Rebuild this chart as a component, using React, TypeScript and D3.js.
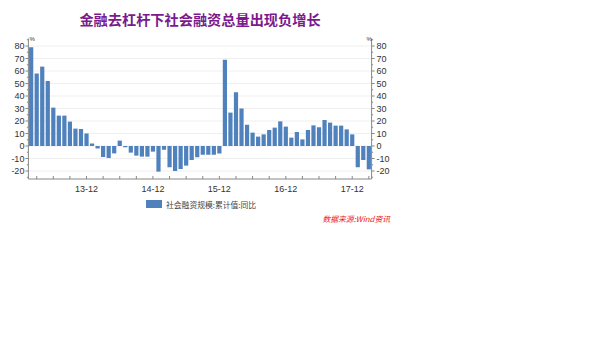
import React from "react";
import * as d3 from "d3";

const months: string[] = [
  "13-02","13-03","13-04","13-05","13-06","13-07","13-08","13-09","13-10","13-11","13-12",
  "14-01","14-02","14-03","14-04","14-05","14-06","14-07","14-08","14-09","14-10","14-11","14-12",
  "15-01","15-02","15-03","15-04","15-05","15-06","15-07","15-08","15-09","15-10","15-11","15-12",
  "16-01","16-02","16-03","16-04","16-05","16-06","16-07","16-08","16-09","16-10","16-11","16-12",
  "17-01","17-02","17-03","17-04","17-05","17-06","17-07","17-08","17-09","17-10","17-11","17-12",
  "18-01","18-02","18-03",
];

const values: number[] = [
  79, 58, 63.5, 52, 30.7, 24.3, 24.3, 19.5, 13.9, 13.6, 10,
  2, -2, -8.8, -9.6, -5.9, 4.3, -1, -5.3, -7.7, -8.5, -8.5, -4.5,
  -20.5, -3, -17, -20, -18.4, -15.7, -11.2, -9, -7, -7, -7, -6,
  69, 26.7, 43, 30, 17, 10.7, 7.5, 9.3, 12.8, 14.7, 19.7, 15.5,
  6.7, 11.2, 5.3, 12.8, 16.5, 15, 20.8, 18.7, 16.3, 16.3, 13.3, 9.3,
  -17, -11.2, -18.7,
];

const yTicks: number[] = [-20, -10, 0, 10, 20, 30, 40, 50, 60, 70, 80];
const yMinorTicks: number[] = [-25, -15, -5, 5, 15, 25, 35, 45, 55, 65, 75, 85];
const xLabelMonths: string[] = ["13-12", "14-12", "15-12", "16-12", "17-12"];
const xTickMonths: string[] = months.filter((m) => ["03", "06", "09", "12"].includes(m.slice(3)));

const title = "金融去杠杆下社会融资总量出现负增长";
const seriesName = "社会融资规模:累计值:同比";
const source = "数据来源:Wind资讯";

const FONT = "'Liberation Sans', Arial, sans-serif";
const BAR = "#4F81BD";
const AXIS = "#888888";
const TXT = "#333333";

export default function App() {
  const left = 28.4;
  const right = 371.6;
  const y = d3.scaleLinear().domain([-26.4, 86]).range([179, 38.5]);
  const x = d3.scaleBand<string>().domain(months).range([left, right]).paddingInner(0.24).paddingOuter(0.12);
  const cx = (m: string) => (x(m) as number) + x.bandwidth() / 2;
  const y0 = y(0);

  return (
    <svg width={600} height={337} style={{ position: "absolute", left: 0, top: 0, background: "#fff" }}>
      <text x={200} y={25} textAnchor="middle" fontSize={14.2} fontWeight="bold" fill="#7A1A8C"
        fontFamily="'Noto Sans CJK SC', sans-serif">{title}</text>

      {yTicks.map((t) => (
        <line key={"g" + t} x1={left} x2={right} y1={y(t)} y2={y(t)} stroke="#efefef" strokeWidth={1} />
      ))}

      {months.map((m, i) => {
        const v = values[i];
        return (
          <rect key={m} x={x(m)} width={x.bandwidth()} y={Math.min(y(v), y0)}
            height={Math.abs(y(v) - y0)} fill={BAR} />
        );
      })}

      {/* left axis */}
      <line x1={left} x2={left} y1={38.5} y2={179} stroke={AXIS} />
      {yTicks.map((t) => (
        <g key={"l" + t}>
          <line x1={left - 3} x2={left} y1={y(t)} y2={y(t)} stroke={AXIS} />
          <text x={left - 4} y={y(t)} dy="0.35em" textAnchor="end" fontSize={9} fill={TXT} fontFamily={FONT}>{t}</text>
        </g>
      ))}
      {yMinorTicks.map((t) => (
        <line key={"lm" + t} x1={left - 1.5} x2={left} y1={y(t)} y2={y(t)} stroke={AXIS} />
      ))}
      <text x={left + 1} y={41} fontSize={6} fill={TXT} fontFamily={FONT}>%</text>

      {/* right axis */}
      <line x1={right} x2={right} y1={38.5} y2={179} stroke={AXIS} />
      {yTicks.map((t) => (
        <g key={"r" + t}>
          <line x1={right} x2={right + 3} y1={y(t)} y2={y(t)} stroke={AXIS} />
          <text x={right + 5} y={y(t)} dy="0.35em" textAnchor="start" fontSize={9} fill={TXT} fontFamily={FONT}>{t}</text>
        </g>
      ))}
      {yMinorTicks.map((t) => (
        <line key={"rm" + t} x1={right} x2={right + 1.5} y1={y(t)} y2={y(t)} stroke={AXIS} />
      ))}
      <text x={right - 5} y={41} fontSize={6} fill={TXT} fontFamily={FONT}>%</text>

      {/* bottom axis */}
      <line x1={left} x2={right} y1={179} y2={179} stroke={AXIS} />
      {xTickMonths.map((m) => (
        <line key={"xt" + m} x1={cx(m)} x2={cx(m)} y1={176} y2={179} stroke={AXIS} />
      ))}
      {xLabelMonths.map((m) => (
        <text key={"xl" + m} x={cx(m)} y={191.5} textAnchor="middle" fontSize={9} fill={TXT} fontFamily={FONT}>{m}</text>
      ))}

      {/* legend */}
      <rect x={146} y={200} width={16} height={8} fill={BAR} />
      <text x={166} y={207.5} fontSize={7.8} fill="#444" fontFamily="'Noto Sans CJK SC', sans-serif">{seriesName}</text>

      <text x={390} y={222} textAnchor="end" fontSize={7.8} fontStyle="italic" fill="#ee1111"
        fontFamily="'Noto Sans CJK SC', sans-serif">{source}</text>
    </svg>
  );
}
